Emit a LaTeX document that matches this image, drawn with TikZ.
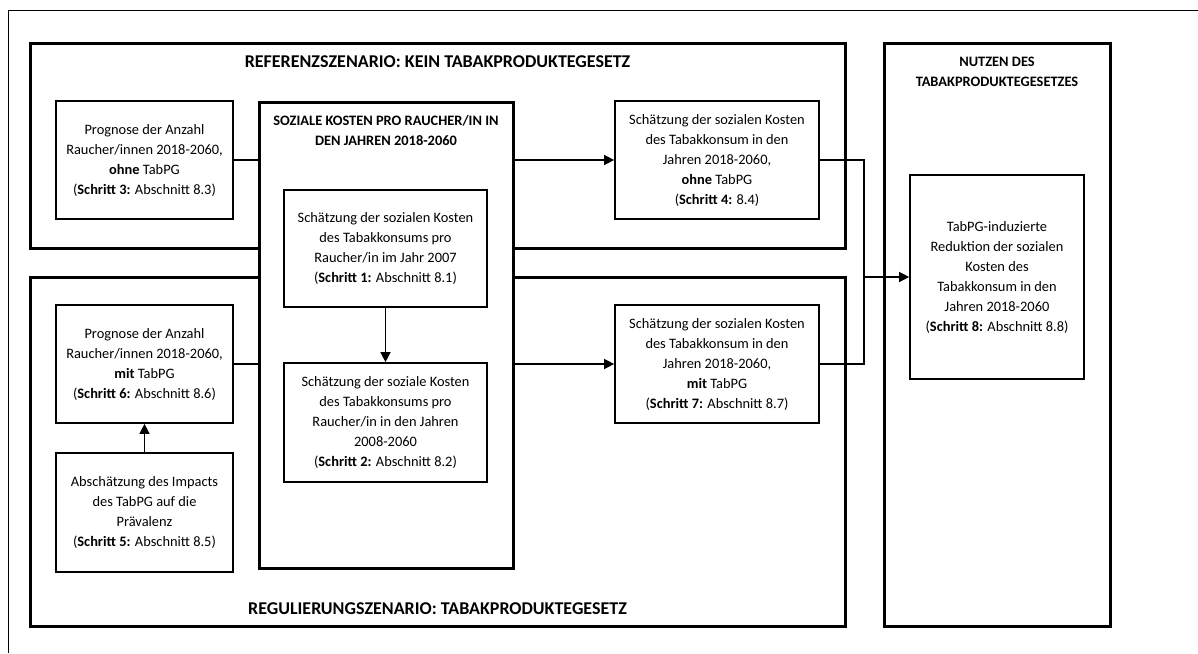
\documentclass[tikz,border=0pt]{standalone}
\usepackage{fontspec}
\setmainfont{Carlito}
\usetikzlibrary{arrows.meta}
\newcommand\diagfont{\fontsize{7.2}{10}\selectfont}
\newcommand\diagbold{\fontsize{7.2}{10}\selectfont\bfseries}
\newcommand\diagbig{\fontsize{9}{11}\selectfont\bfseries}
\begin{document}
\begin{tikzpicture}[x=0.5pt,y=-0.5pt,
  box/.style={draw, line width=0.85pt, align=center, inner sep=0pt, font=\diagfont, fill=white},
  big/.style={draw, line width=1.5pt, inner sep=0pt},
  ttl/.style={font=\diagbold, align=center, inner sep=0pt},
  bigttl/.style={font=\diagbig, align=center, inner sep=0pt},
  arr/.style={-{Triangle[length=5pt,width=5pt]}, line width=0.7pt},
  con/.style={line width=0.7pt},
  frame/.style={line width=0.5pt}]
\useasboundingbox (0,0) rectangle (1198,653);
\fill[white] (0,0) rectangle (1198,653);
\draw[frame] (8,653) -- (8,10) -- (1198,10);
% scenario boxes
\node[big, minimum width=407.5pt, minimum height=102.5pt] (Ref) at (437.5,145.5) {};
\node[big, minimum width=407.5pt, minimum height=174.5pt] (Reg) at (437.5,451.5) {};
\node[big, minimum width=113pt, minimum height=291.5pt] (Nut) at (997,334.5) {};
\node[big, fill=white, minimum width=127pt, minimum height=233pt] (C) at (386,335) {};
% titles
\node[bigttl] (RefT) at (437.5,62) {REFERENZSZENARIO: KEIN TABAKPRODUKTEGESETZ};
\node[bigttl] (RegT) at (437.5,609) {REGULIERUNGSZENARIO: TABAKPRODUKTEGESETZ};
\node[ttl] (NutT) at (997,72) {NUTZEN DES\\TABAKPRODUKTEGESETZES};
\node[ttl] (CT) at (386,130) {SOZIALE KOSTEN PRO RAUCHER/IN IN\\DEN JAHREN 2018-2060};
% step boxes
\node[box, minimum width=88.5pt, minimum height=59pt] (P3) at (144.5,160)
  {Prognose der Anzahl\\Raucher/innen 2018-2060,\\\textbf{ohne} TabPG\\(\textbf{Schritt 3:} Abschnitt 8.3)};
\node[box, minimum width=88.5pt, minimum height=59pt] (P6) at (144.5,364)
  {Prognose der Anzahl\\Raucher/innen 2018-2060,\\\textbf{mit} TabPG\\(\textbf{Schritt 6:} Abschnitt 8.6)};
\node[box, minimum width=88.5pt, minimum height=59.5pt] (S5) at (144.5,512.5)
  {Absch\"atzung des Impacts\\des TabPG auf die\\Pr\"avalenz\\(\textbf{Schritt 5:} Abschnitt 8.5)};
\node[box, minimum width=101.5pt, minimum height=58.5pt] (S1) at (385.5,248.5)
  {Sch\"atzung der sozialen Kosten\\des Tabakkonsums pro\\Raucher/in im Jahr 2007\\(\textbf{Schritt 1:} Abschnitt 8.1)};
\node[box, minimum width=101.5pt, minimum height=59.5pt] (S2) at (385.5,422.5)
  {Sch\"atzung der soziale Kosten\\des Tabakkonsums pro\\Raucher/in in den Jahren\\2008-2060\\(\textbf{Schritt 2:} Abschnitt 8.2)};
\node[box, minimum width=102pt, minimum height=59pt] (S4) at (717,160)
  {Sch\"atzung der sozialen Kosten\\des Tabakkonsum in den\\Jahren 2018-2060,\\\textbf{ohne} TabPG\\(\textbf{Schritt 4:} 8.4)};
\node[box, minimum width=102pt, minimum height=59pt] (S7) at (717,364)
  {Sch\"atzung der sozialen Kosten\\des Tabakkonsum in den\\Jahren 2018-2060,\\\textbf{mit} TabPG\\(\textbf{Schritt 7:} Abschnitt 8.7)};
\node[box, minimum width=87pt, minimum height=102pt] (S8) at (997,277)
  {TabPG-induzierte\\Reduktion der sozialen\\Kosten des\\Tabakkonsum in den\\Jahren 2018-2060\\(\textbf{Schritt 8:} Abschnitt 8.8)};
% connectors
\draw[con] (P3.east) -- (P3.east -| C.west);
\draw[arr] (P3.east -| C.east) -- (S4.west);
\draw[con] (P6.east) -- (P6.east -| C.west);
\draw[arr] (P6.east -| C.east) -- (S7.west);
\draw[arr] (S1.south) -- (S2.north);
\draw[arr] (S5.north) -- (P6.south);
\coordinate (J) at (864,277);
\draw[con] (S4.east) -| (J) |- (S7.east);
\draw[arr] (J) -- (S8.west);
\end{tikzpicture}
\end{document}
